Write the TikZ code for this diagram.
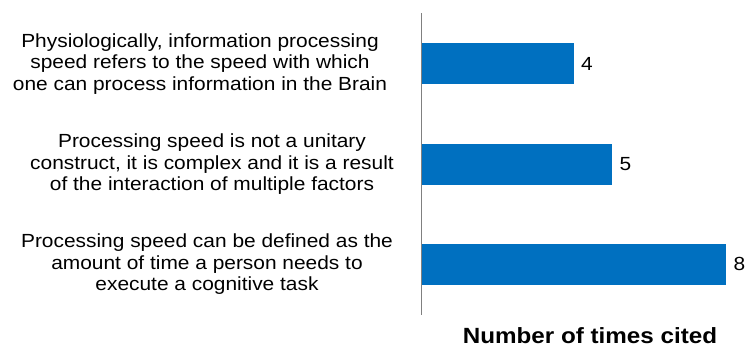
\documentclass[tikz,border=0pt]{standalone}
\usepackage{fontspec}
\setmainfont{Liberation Sans}
\newfontfamily\labfont[FakeStretch=1.1]{Liberation Sans}
\definecolor{barblue}{RGB}{0,112,192}
\definecolor{axisgray}{RGB}{128,128,128}
\tikzset{
  catlabel/.style={align=center, inner sep=0pt, font=\labfont\fontsize{19}{21.5}\selectfont},
  vallabel/.style={anchor=west, inner sep=0pt, font=\labfont\fontsize{19}{21.5}\selectfont},
  bar/.style={fill=barblue, draw=none},
  axisline/.style={draw=axisgray, line width=1pt},
  axtitle/.style={anchor=base, inner sep=0pt, font=\labfont\bfseries\fontsize{22}{24}\selectfont}
}
\begin{document}
\begin{tikzpicture}[x=1pt,y=-1pt]
\useasboundingbox (0,0) rectangle (746,348);
% bars
\fill[bar] (421.5,43) rectangle (574,84);
\fill[bar] (421.5,143.7) rectangle (612.3,184.7);
\fill[bar] (421.5,244) rectangle (726.3,284.7);
% axis
\coordinate (axtop) at (421.5,13);
\coordinate (axbot) at (421.5,315);
\draw[axisline] (axtop) -- (axbot);
% value labels
\node[vallabel] (v1) at (581,63.5) {4};
\node[vallabel] (v2) at (619.5,164.2) {5};
\node[vallabel] (v3) at (733.5,264.4) {8};
% category labels
\node[catlabel] (c1) at (200,64) {Physiologically, information processing\\speed refers to the speed with which\\one can process information in the Brain};
\node[catlabel] (c2) at (212,164.5) {Processing speed is not a unitary\\construct, it is complex and it is a result\\of the interaction of multiple factors};
\node[catlabel] (c3) at (207,264.5) {Processing speed can be defined as the\\amount of time a person needs to\\execute a cognitive task};
% axis title
\node[axtitle] (t) at (590,343) {Number of times cited};
\end{tikzpicture}
\end{document}
